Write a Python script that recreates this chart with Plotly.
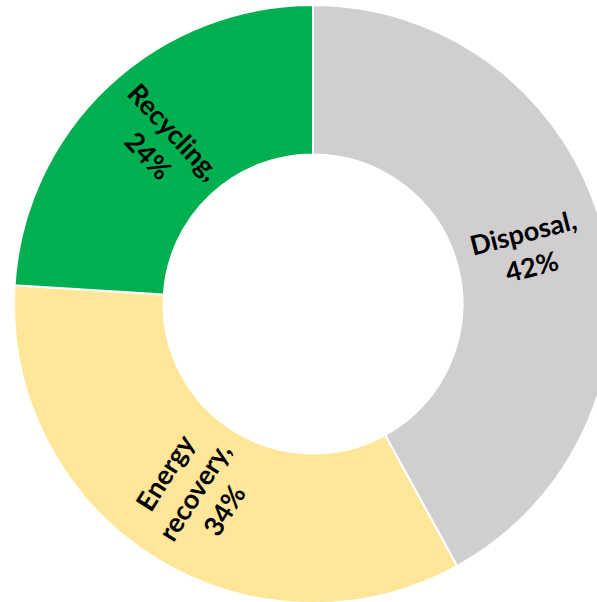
import math
import plotly.graph_objects as go

labels = ["Disposal", "Energy recovery", "Recycling"]
values = [42, 34, 24]
colors = ["#D0CECE", "#FFE699", "#00B050"]

texts = [lab.replace(" ", "<br>") + ",<br>" + f"{v}%" for lab, v in zip(labels, values)]

fig = go.Figure(go.Pie(
    labels=labels,
    values=values,
    textinfo="none",
    hole=0.5,
    sort=False,
    direction="clockwise",
    rotation=0,
    marker=dict(colors=colors, line=dict(color="white", width=2)),
    hoverinfo="label+percent",
))

# radial labels placed at each slice's mid-angle (derived from the values)
total = sum(values)
cum = 0.0
annotations = []
label_r = 0.37  # paper units (pie radius = 0.5)
for txt, v in zip(texts, values):
    mid = (cum + v / 2) / total * 360.0  # degrees clockwise from top
    cum += v
    rad = math.radians(mid)
    rot = mid - 90
    if rot > 90:
        rot -= 180
    annotations.append(dict(
        x=0.5 + label_r * math.sin(rad),
        y=0.5 + label_r * math.cos(rad),
        xref="paper", yref="paper",
        text=txt, showarrow=False,
        textangle=rot,
        xanchor="center", yanchor="middle",
        font=dict(family="Lato", size=27, color="black", weight="bold"),
    ))

fig.update_layout(
    width=626,
    height=603,
    margin=dict(l=14, r=14, t=5, b=0),
    showlegend=False,
    paper_bgcolor="white",
    plot_bgcolor="white",
    annotations=annotations,
)

fig.write_html(
    "out.html",
    post_script="document.body.style.overflow='hidden';document.documentElement.style.overflow='hidden';document.body.style.margin='0';",
)
